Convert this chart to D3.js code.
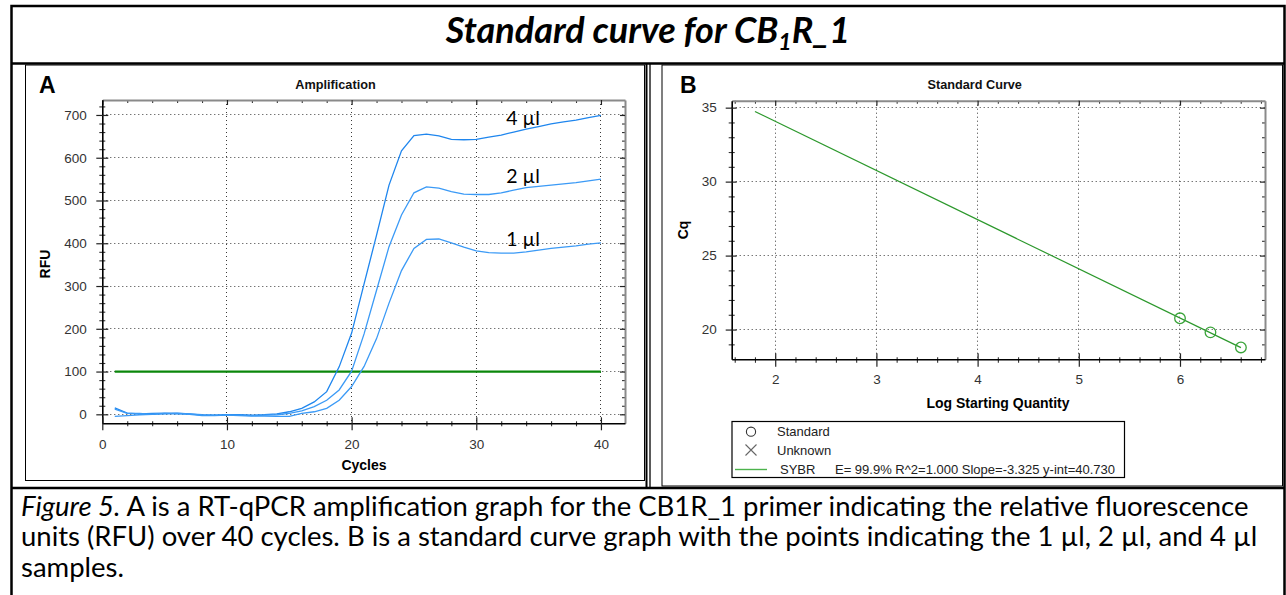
<!DOCTYPE html>
<html>
<head>
<meta charset="utf-8">
<title>Standard curve for CB1R_1</title>
<script src="https://cdn.jsdelivr.net/npm/d3@7/dist/d3.min.js"></script>
<style>
  html, body { margin: 0; padding: 0; background: #fff; }
  svg { display: block; }
</style>
</head>
<body>
<svg id="fig" width="1286" height="595"></svg>
<script>
// ---------- Amplification data (RFU per cycle) ----------
const cycles = d3.range(1, 41);
const rfu4ul = [15, 3, 1, 2, 3, 3, 1, -2, -2, -1, -1, -2, -1, 1, 6, 14, 29, 53, 111, 190,
                305, 419, 536, 616, 652, 655, 651, 643, 642, 643, 648, 653, 660, 667, 673, 679, 684, 688, 694, 699];
const rfu2ul = [12, 2, 2, 0, 2, 1, 0, -3, -3, -2, -2, -3, -2, -1, 2, 8, 18, 33, 57, 101,
                188, 290, 392, 466, 518, 532, 529, 521, 515, 514, 514, 518, 524, 530, 533, 536, 539, 542, 546, 550];
const rfu1ul = [-5, -3, -1, 0, 1, 2, 1, -1, -2, -2, -3, -4, -4, -5, -5, 2, 6, 14, 33, 65,
                112, 177, 260, 336, 388, 409, 410, 401, 391, 382, 378, 377, 377, 380, 384, 388, 391, 394, 398, 401];
const sampleLabels = ["4 µl", "2 µl", "1 µl"];
const thresholdRFU = 100;
const cycleTicks = [0, 10, 20, 30, 40];
const rfuTicks = [0, 100, 200, 300, 400, 500, 600, 700];

// ---------- Standard curve data ----------
const logQuantity = [6.000, 6.301, 6.602];
const cqStandard = [20.76, 19.81, 18.79];
const fitSlope = -3.325;
const fitIntercept = 40.730;
const fitEfficiency = 99.9;
const fitR2 = 1.000;
const fitFrom = 1.8;
const logTicks = [2, 3, 4, 5, 6];
const cqTicks = [20, 25, 30, 35];

// ---------- Text ----------
const titleParts = ["Standard curve for CB", "1", "R_1"];
const captionLines = [
  ["Figure 5.", " A is a RT-qPCR amplification graph for the CB1R_1 primer indicating the relative fluorescence"],
  ["", "units (RFU) over 40 cycles. B is a standard curve graph with the points indicating the 1 µl, 2 µl, and 4 µl"],
  ["", "samples."]
];

const SANS = '"Liberation Sans", Arial, sans-serif';
const BODY = 'Lato, "Open Sans", sans-serif';
const svg = d3.select("#fig");

// ---------- Table borders ----------
const T = { left: 11.5, right: 1284.5, top: 6, row1: 63.5, row2: 488 };
const tbl = svg.append("g").attr("fill", "none").attr("stroke", "#000");
tbl.append("path").attr("stroke-width", 2.5)
  .attr("d", `M${T.left},600V${T.top}H${T.right}V600`);
tbl.append("line").attr("stroke-width", 2.5)
  .attr("x1", T.left).attr("x2", T.right).attr("y1", T.row1).attr("y2", T.row1);
tbl.append("line").attr("stroke-width", 2.5)
  .attr("x1", T.left).attr("x2", T.right).attr("y1", T.row2).attr("y2", T.row2);
tbl.append("line").attr("stroke-width", 2)
  .attr("x1", 646.5).attr("x2", 646.5).attr("y1", T.row1).attr("y2", T.row2);
tbl.append("line").attr("stroke-width", 1.3)
  .attr("x1", 650).attr("x2", 650).attr("y1", T.row1).attr("y2", T.row2);
// picture frames
tbl.append("rect").attr("stroke-width", 1)
  .attr("x", 25.5).attr("y", 65).attr("width", 619).attr("height", 415.5);
tbl.append("rect").attr("stroke-width", 1)
  .attr("x", 662).attr("y", 65).attr("width", 620.5).attr("height", 421);

// ---------- Title ----------
const title = svg.append("text")
  .attr("x", 648).attr("y", 43).attr("text-anchor", "middle")
  .style("font-family", BODY).style("font-weight", 700).style("font-style", "italic")
  .style("font-size", "36px").attr("fill", "#000");
title.append("tspan").text(titleParts[0]);
title.append("tspan").attr("dy", 7).style("font-size", "23px").text(titleParts[1]);
title.append("tspan").attr("dy", -7).text(titleParts[2]);

// ---------- Caption ----------
const cap = svg.append("g").style("font-family", BODY).attr("fill", "#000");
const capText = cap.selectAll("text").data(captionLines).join("text")
  .attr("x", 21).attr("y", (d, i) => 515.5 + i * 30.5)
  .style("font-size", "21px");
capText.each(function (d) {
  const t = d3.select(this);
  if (d[0]) t.append("tspan").style("font-style", "italic").text(d[0]);
  t.append("tspan").attr("xml:space", "preserve").text(d[1]);
});
{
  const w = capText.nodes()[0].getComputedTextLength();
  capText.style("font-size", (21 * 1228 / w) + "px");
}

// ---------- Helpers ----------
const crisp = v => Math.round(v - 0.5) + 0.5;
function styleAxis(g, color, width) {
  g.select(".domain").attr("stroke", color).attr("stroke-width", width);
  g.selectAll(".tick line").attr("stroke", "#222").attr("stroke-width", 1.2);
  g.selectAll(".tick text").attr("fill", "#333")
    .style("font-family", SANS).style("font-size", "13.5px");
}
function bareTicks(g) {
  g.select(".domain").remove();
  g.selectAll(".tick line").attr("stroke", "#333").attr("stroke-width", 1.1);
}
function gridDots(g, lines) {
  g.selectAll("line").data(lines).join("line")
    .attr("x1", d => d[0]).attr("y1", d => d[1]).attr("x2", d => d[2]).attr("y2", d => d[3])
    .attr("stroke", "#3a3a3a").attr("stroke-width", 1).attr("stroke-dasharray", "1,3");
}

// =====================================================
// Panel A: amplification
// =====================================================
const xA = d3.scaleLinear().domain([0, 41.93]).range([102.3, 625]);
const yA = d3.scaleLinear().domain([-21, 735]).range([423.3, 100]);
const gA = svg.append("g");

gridDots(gA.append("g"), [
  ...rfuTicks.map(v => [xA.range()[0], crisp(yA(v)), xA.range()[1], crisp(yA(v))]),
  ...cycleTicks.filter(v => v > 0).map(v => [crisp(xA(v)), yA.range()[1], crisp(xA(v)), yA.range()[0]])
]);

const minorCycles = d3.range(2, 42, 2).filter(v => v % 10 !== 0);
const minorRfu = d3.range(0, 721, 20).filter(v => v % 100 !== 0);

// top and right borders with inward ticks
gA.append("g").attr("transform", `translate(0,${yA.range()[1]})`)
  .call(d3.axisBottom(xA).tickValues(minorCycles).tickSize(3).tickFormat(""))
  .call(bareTicks);
gA.append("g").attr("transform", `translate(0,${yA.range()[1]})`)
  .call(d3.axisBottom(xA).tickValues(cycleTicks).tickSize(5).tickFormat("").tickSizeOuter(0))
  .call(g => styleAxis(g, "#8a8a8a", 2));
gA.append("g").attr("transform", `translate(${xA.range()[1]},0)`)
  .call(d3.axisLeft(yA).tickValues(minorRfu).tickSize(3).tickFormat(""))
  .call(bareTicks);
gA.append("g").attr("transform", `translate(${xA.range()[1]},0)`)
  .call(d3.axisLeft(yA).tickValues(rfuTicks).tickSize(5).tickFormat("").tickSizeOuter(0))
  .call(g => styleAxis(g, "#8a8a8a", 2));

// left axis
gA.append("g").attr("transform", `translate(${xA.range()[0]},0)`)
  .call(d3.axisLeft(yA).tickValues(minorRfu).tickSize(3).tickFormat(""))
  .call(bareTicks)
  .call(g => g.selectAll(".tick line").attr("x1", 3));
gA.append("g").attr("transform", `translate(${xA.range()[0]},0)`)
  .call(d3.axisLeft(yA).tickValues(rfuTicks).tickSize(6).tickPadding(9.5).tickSizeOuter(0).tickFormat(d3.format("d")))
  .call(g => styleAxis(g, "#000", 1.6))
  .call(g => g.selectAll(".tick line").attr("x1", 6));

// bottom axis
gA.append("g").attr("transform", `translate(0,${yA.range()[0]})`)
  .call(d3.axisBottom(xA).tickValues(minorCycles).tickSize(3).tickFormat(""))
  .call(bareTicks)
  .call(g => g.selectAll(".tick line").attr("y1", -2));
gA.append("g").attr("transform", `translate(0,${yA.range()[0]})`)
  .call(d3.axisBottom(xA).tickValues(cycleTicks).tickSize(7).tickPadding(9.5).tickSizeOuter(0).tickFormat(d3.format("d")))
  .call(g => styleAxis(g, "#000", 1.6))
  .call(g => g.selectAll(".tick line").attr("y1", -6));

// threshold
gA.append("line")
  .attr("x1", xA(cycles[0])).attr("x2", xA(cycles[cycles.length - 1]))
  .attr("y1", yA(thresholdRFU)).attr("y2", yA(thresholdRFU))
  .attr("stroke", "#0b870b").attr("stroke-width", 2.2);

// amplification curves
const ampSeries = [rfu4ul, rfu2ul, rfu1ul];
const ampLine = d3.line().x((d, i) => xA(cycles[i])).y(d => yA(d));
gA.append("g").selectAll("path").data(ampSeries).join("path")
  .attr("d", ampLine).attr("fill", "none")
  .attr("stroke", (d, i) => i === 0 ? "#1f86ee" : "#3b9af6")
  .attr("stroke-width", 1.3);

// sample labels above the curves at cycle 33
const labelCycle = 33;
gA.append("g").selectAll("text").data(ampSeries).join("text")
  .attr("x", xA(32.4)).attr("y", d => yA(d[labelCycle - 1]) - 7)
  .style("font-family", BODY).style("font-size", "19.5px").attr("fill", "#000")
  .text((d, i) => sampleLabels[i]);

// titles
gA.append("text").attr("x", 335.5).attr("y", 88.5).attr("text-anchor", "middle")
  .style("font-family", SANS).style("font-weight", 700).style("font-size", "12.7px")
  .attr("fill", "#111").text("Amplification");
gA.append("text").attr("x", 39).attr("y", 93)
  .style("font-family", SANS).style("font-weight", 700).style("font-size", "23px")
  .attr("fill", "#000").text("A");
gA.append("text").attr("transform", "translate(50,264) rotate(-90)").attr("text-anchor", "middle")
  .style("font-family", SANS).style("font-weight", 700).style("font-size", "14px")
  .attr("fill", "#000").text("RFU");
gA.append("text").attr("x", 364).attr("y", 470).attr("text-anchor", "middle")
  .style("font-family", SANS).style("font-weight", 700).style("font-size", "14px")
  .attr("fill", "#000").text("Cycles");

// =====================================================
// Panel B: standard curve
// =====================================================
const xB = d3.scaleLinear().domain([1.57, 6.84]).range([731.7, 1265]);
const yB = d3.scaleLinear().domain([17.99, 35.47]).range([359.3, 100.7]);
const gB = svg.append("g");

gridDots(gB.append("g"), [
  ...cqTicks.map(v => [xB.range()[0], crisp(yB(v)), xB.range()[1], crisp(yB(v))]),
  ...logTicks.map(v => [crisp(xB(v)), yB.range()[1], crisp(xB(v)), yB.range()[0]])
]);

const minorLog = d3.range(8, 35).map(i => i / 5).filter(v => Math.abs(v - Math.round(v)) > 1e-6);
const minorCq = d3.range(19, 36).filter(v => v % 5 !== 0);

gB.append("g").attr("transform", `translate(0,${yB.range()[1]})`)
  .call(d3.axisBottom(xB).tickValues(minorLog).tickSize(3).tickFormat(""))
  .call(bareTicks);
gB.append("g").attr("transform", `translate(0,${yB.range()[1]})`)
  .call(d3.axisBottom(xB).tickValues(logTicks).tickSize(5).tickFormat("").tickSizeOuter(0))
  .call(g => styleAxis(g, "#8a8a8a", 2));
gB.append("g").attr("transform", `translate(${xB.range()[1]},0)`)
  .call(d3.axisLeft(yB).tickValues(minorCq).tickSize(3).tickFormat(""))
  .call(bareTicks);
gB.append("g").attr("transform", `translate(${xB.range()[1]},0)`)
  .call(d3.axisLeft(yB).tickValues(cqTicks).tickSize(5).tickFormat("").tickSizeOuter(0))
  .call(g => styleAxis(g, "#8a8a8a", 2));

gB.append("g").attr("transform", `translate(${xB.range()[0]},0)`)
  .call(d3.axisLeft(yB).tickValues(minorCq).tickSize(3).tickFormat(""))
  .call(bareTicks)
  .call(g => g.selectAll(".tick line").attr("x1", 3));
gB.append("g").attr("transform", `translate(${xB.range()[0]},0)`)
  .call(d3.axisLeft(yB).tickValues(cqTicks).tickSize(6).tickPadding(9).tickSizeOuter(0).tickFormat(d3.format("d")))
  .call(g => styleAxis(g, "#000", 1.6))
  .call(g => g.selectAll(".tick line").attr("x1", 5));

gB.append("g").attr("transform", `translate(0,${yB.range()[0]})`)
  .call(d3.axisBottom(xB).tickValues(minorLog).tickSize(3.5).tickFormat(""))
  .call(bareTicks)
  .call(g => g.selectAll(".tick line").attr("y1", -2));
gB.append("g").attr("transform", `translate(0,${yB.range()[0]})`)
  .call(d3.axisBottom(xB).tickValues(logTicks).tickSize(7.5).tickPadding(7.7).tickSizeOuter(0).tickFormat(d3.format("d")))
  .call(g => styleAxis(g, "#000", 1.6))
  .call(g => g.selectAll(".tick line").attr("y1", -6));

// regression line and standards
const fitEnd = d3.max(logQuantity);
gB.append("line")
  .attr("x1", xB(fitFrom)).attr("y1", yB(fitIntercept + fitSlope * fitFrom))
  .attr("x2", xB(fitEnd)).attr("y2", yB(fitIntercept + fitSlope * fitEnd))
  .attr("stroke", "#2c982c").attr("stroke-width", 1.2);
gB.append("g").selectAll("circle").data(logQuantity).join("circle")
  .attr("cx", d => xB(d)).attr("cy", (d, i) => yB(cqStandard[i])).attr("r", 5.3)
  .attr("fill", "none").attr("stroke", "#3aa43a").attr("stroke-width", 1.3);

gB.append("text").attr("x", 974.7).attr("y", 88.5).attr("text-anchor", "middle")
  .style("font-family", SANS).style("font-weight", 700).style("font-size", "12.7px")
  .attr("fill", "#111").text("Standard Curve");
gB.append("text").attr("x", 680).attr("y", 92.5)
  .style("font-family", SANS).style("font-weight", 700).style("font-size", "23px")
  .attr("fill", "#000").text("B");
gB.append("text").attr("transform", "translate(688.3,230) rotate(-90)").attr("text-anchor", "middle")
  .style("font-family", SANS).style("font-weight", 700).style("font-size", "14px")
  .attr("fill", "#000").text("Cq");
gB.append("text").attr("x", 998).attr("y", 408).attr("text-anchor", "middle")
  .style("font-family", SANS).style("font-weight", 700).style("font-size", "14px")
  .attr("fill", "#000").text("Log Starting Quantity");

// legend
const leg = gB.append("g").style("font-family", SANS).style("font-size", "13px");
leg.append("rect").attr("x", 732).attr("y", 421.5).attr("width", 392.5).attr("height", 56)
  .attr("fill", "#fff").attr("stroke", "#000").attr("stroke-width", 1.2);
leg.append("circle").attr("cx", 751).attr("cy", 431.7).attr("r", 4.6)
  .attr("fill", "none").attr("stroke", "#333").attr("stroke-width", 1.1);
leg.append("path").attr("d", "M745.5,444.5L756.5,455.5M756.5,444.5L745.5,455.5")
  .attr("stroke", "#666").attr("stroke-width", 1.1);
leg.append("line").attr("x1", 735).attr("x2", 767).attr("y1", 469.5).attr("y2", 469.5)
  .attr("stroke", "#4db34d").attr("stroke-width", 1.4);
leg.append("text").attr("x", 777).attr("y", 436.3).attr("fill", "#222").text("Standard");
leg.append("text").attr("x", 777).attr("y", 454.6).attr("fill", "#222").text("Unknown");
leg.append("text").attr("x", 780).attr("y", 474).attr("fill", "#222").text("SYBR");
leg.append("text").attr("x", 835).attr("y", 474).attr("fill", "#222")
  .text(`E= ${fitEfficiency.toFixed(1)}% R^2=${fitR2.toFixed(3)} Slope=${fitSlope.toFixed(3)} y-int=${fitIntercept.toFixed(3)}`);
</script>
</body>
</html>
